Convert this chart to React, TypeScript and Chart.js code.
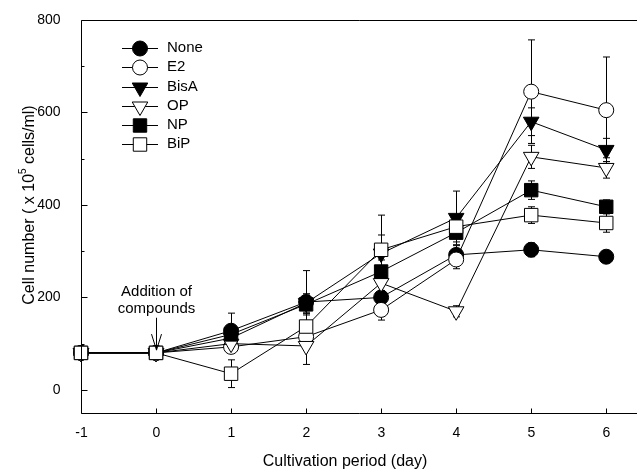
import React, { useEffect, useRef } from "react";
import { Chart, registerables } from "chart.js";

Chart.register(...registerables);

const days = [-1, 0, 1, 2, 3, 4, 5, 6];
const xTickLabels = ["-1", "0", "1", "2", "3", "4", "5", "6"];
const yTickValues = [0, 200, 400, 600, 800];
const yMinorTicks = [100, 300, 500, 700];

const seriesNames = ["None", "E2", "BisA", "OP", "NP", "BiP"];
const noneVals = [80, 80, 128, 190, 200, 292, 303, 288];
const e2Vals = [80, 80, 93, 115, 173, 282, 645, 605];
const bisAVals = [80, 80, 112, 188, 295, 372, 580, 519];
const opVals = [80, 80, 100, 95, 231, 170, 504, 480];
const npVals = [80, 80, 120, 185, 256, 340, 432, 396];
const bipVals = [80, 80, 35, 137, 303, 353, 378, 361];

const noneErr = [0, 0, 38, 68, 15, 20, 15, 12];
const e2Err = [0, 0, 12, 15, 22, 20, 112, 115];
const bisAErr = [0, 0, 15, 20, 40, 58, 30, 25];
const opErr = [0, 0, 10, 40, 20, 12, 25, 22];
const npErr = [0, 0, 15, 20, 25, 20, 20, 15];
const bipErr = [0, 0, 30, 25, 75, 25, 18, 20];

const seriesVals = [noneVals, e2Vals, bisAVals, opVals, npVals, bipVals];
const seriesErr = [noneErr, e2Err, bisAErr, opErr, npErr, bipErr];

const styles: any[] = [
  { pointStyle: "circle", fill: "#000", radius: 7.5, rotation: 0 },
  { pointStyle: "circle", fill: "#fff", radius: 7.5, rotation: 0 },
  { pointStyle: "triangle", fill: "#000", radius: 9, rotation: 180 },
  { pointStyle: "triangle", fill: "#fff", radius: 9, rotation: 180 },
  { pointStyle: "rect", fill: "#000", radius: 9.5, rotation: 0 },
  { pointStyle: "rect", fill: "#fff", radius: 9.5, rotation: 0 },
];

const FONT = "Liberation Sans, Arial, sans-serif";

function drawMarker(ctx: CanvasRenderingContext2D, st: any, x: number, y: number) {
  ctx.beginPath();
  if (st.pointStyle === "circle") {
    ctx.arc(x, y, st.radius, 0, Math.PI * 2);
  } else if (st.pointStyle === "triangle") {
    const r = st.radius;
    const h = r * Math.sqrt(3) / 2;
    ctx.moveTo(x, y + r);
    ctx.lineTo(x - h, y - r / 2);
    ctx.lineTo(x + h, y - r / 2);
    ctx.closePath();
  } else {
    const s = Math.SQRT1_2 * st.radius;
    ctx.rect(x - s, y - s, 2 * s, 2 * s);
  }
  ctx.fillStyle = st.fill;
  ctx.fill();
  ctx.strokeStyle = "#000";
  ctx.lineWidth = 1;
  ctx.stroke();
}

const customPlugin = {
  id: "customDraw",
  beforeDatasetsDraw(chart: any) {
    const ctx = chart.ctx;
    const xs = chart.scales.x;
    const ys = chart.scales.y;
    ctx.save();
    ctx.strokeStyle = "#000";
    ctx.lineWidth = 1;
    seriesVals.forEach((vals, i) => {
      const errs = seriesErr[i];
      vals.forEach((v, j) => {
        const e = errs[j];
        if (!e) return;
        const x = Math.round(xs.getPixelForValue(days[j])) + 0.5;
        const yt = ys.getPixelForValue(v + e);
        const yb = ys.getPixelForValue(v - e);
        ctx.beginPath();
        ctx.moveTo(x, yt);
        ctx.lineTo(x, yb);
        ctx.moveTo(x - 3.5, yt);
        ctx.lineTo(x + 3.5, yt);
        ctx.moveTo(x - 3.5, yb);
        ctx.lineTo(x + 3.5, yb);
        ctx.stroke();
      });
    });
    ctx.restore();
  },
  afterDraw(chart: any) {
    const ctx = chart.ctx;
    const xs = chart.scales.x;
    const ys = chart.scales.y;
    const area = chart.chartArea;
    ctx.save();
    ctx.strokeStyle = "#000";
    ctx.fillStyle = "#000";
    ctx.lineWidth = 1;
    const L = Math.round(area.left) + 0.5;
    const B = Math.round(area.bottom) + 0.5;
    const T = Math.round(area.top) + 0.5;
    const R = area.right;
    ctx.beginPath();
    ctx.moveTo(L, T);
    ctx.lineTo(L, B);
    ctx.lineTo(R, B);
    ctx.moveTo(L, T);
    ctx.lineTo(R, T);
    ctx.stroke();
    ctx.font = "14px " + FONT;
    ctx.textAlign = "right";
    ctx.textBaseline = "middle";
    yTickValues.forEach((v) => {
      const y = Math.round(ys.getPixelForValue(v)) + 0.5;
      ctx.beginPath();
      ctx.moveTo(L, y);
      ctx.lineTo(L + 6, y);
      ctx.stroke();
      ctx.fillText(String(v), L - 21, y);
    });
    yMinorTicks.forEach((v) => {
      const y = Math.round(ys.getPixelForValue(v)) + 0.5;
      ctx.beginPath();
      ctx.moveTo(L, y);
      ctx.lineTo(L + 3, y);
      ctx.stroke();
    });
    ctx.textAlign = "center";
    ctx.textBaseline = "middle";
    days.forEach((d, j) => {
      const x = Math.round(xs.getPixelForValue(d)) + 0.5;
      ctx.beginPath();
      ctx.moveTo(x, B);
      ctx.lineTo(x, B - 5);
      ctx.stroke();
      ctx.fillText(xTickLabels[j], x, B + 20);
    });
    ctx.font = "16px " + FONT;
    ctx.fillText("Cultivation period (day)", 345, 462);
    ctx.save();
    ctx.translate(30, 205);
    ctx.rotate(-Math.PI / 2);
    const p1 = "Cell number ( x 10";
    const p2 = "5";
    const p3 = " cells/ml)";
    ctx.font = "16px " + FONT;
    const w1 = ctx.measureText(p1).width;
    const w3 = ctx.measureText(p3).width;
    ctx.font = "10px " + FONT;
    const w2 = ctx.measureText(p2).width;
    const total = w1 + w2 + w3;
    let sx = -total / 2;
    ctx.textAlign = "left";
    ctx.textBaseline = "middle";
    ctx.font = "16px " + FONT;
    ctx.fillText(p1, sx, 0);
    sx += w1;
    ctx.font = "10px " + FONT;
    ctx.fillText(p2, sx, -7);
    sx += w2;
    ctx.font = "16px " + FONT;
    ctx.fillText(p3, sx, 0);
    ctx.restore();
    const ax = Math.round(xs.getPixelForValue(0)) + 0.5;
    const aTop = ys.getPixelForValue(156);
    const aTip = ys.getPixelForValue(86);
    ctx.beginPath();
    ctx.moveTo(ax, aTop);
    ctx.lineTo(ax, aTip);
    ctx.moveTo(ax - 5, aTip - 16);
    ctx.lineTo(ax, aTip);
    ctx.lineTo(ax + 5, aTip - 16);
    ctx.stroke();
    ctx.font = "15px " + FONT;
    ctx.textAlign = "center";
    ctx.textBaseline = "middle";
    ctx.fillStyle = "#000";
    ctx.fillText("Addition of", ax, 292);
    ctx.fillText("compounds", ax, 309);
    const rowY = [48, 67, 87, 106, 125, 144];
    seriesNames.forEach((name, i) => {
      const y = rowY[i] + 0.5;
      ctx.strokeStyle = "#000";
      ctx.beginPath();
      ctx.moveTo(122, y);
      ctx.lineTo(158, y);
      ctx.stroke();
      drawMarker(ctx, styles[i], 140, y);
      ctx.fillStyle = "#000";
      ctx.textAlign = "left";
      ctx.textBaseline = "middle";
      ctx.font = "15px " + FONT;
      ctx.fillText(name, 167, rowY[i]);
    });
    ctx.restore();
  },
};

export default function App() {
  const ref = useRef<HTMLCanvasElement | null>(null);
  useEffect(() => {
    if (!ref.current) return;
    const datasets = seriesNames.map((name, i) => ({
      label: name,
      data: days.map((d, j) => ({ x: d, y: seriesVals[i][j] })),
      borderColor: "#000",
      borderWidth: 1,
      backgroundColor: styles[i].fill,
      pointBackgroundColor: styles[i].fill,
      pointBorderColor: "#000",
      pointBorderWidth: 1,
      pointStyle: styles[i].pointStyle,
      pointRadius: styles[i].radius,
      pointRotation: styles[i].rotation,
      tension: 0,
      fill: false,
      clip: false,
      order: 5 - i,
    }));
    const chart = new Chart(ref.current, {
      type: "line",
      data: { datasets },
      options: {
        animation: false,
        responsive: false,
        layout: { autoPadding: false, padding: { left: 81, top: 20, right: 0, bottom: 60 } },
        plugins: { legend: { display: false }, tooltip: { enabled: false } },
        scales: {
          x: { type: "linear", min: -1, max: 6.41, display: false },
          y: { type: "linear", min: -50, max: 800, display: false },
        },
      },
      plugins: [customPlugin],
    });
    return () => chart.destroy();
  }, []);
  return (
    <div style={{ position: "fixed", left: 0, top: 0, width: 637, height: 473, background: "#fff" }}>
      <canvas ref={ref} width={637} height={473} style={{ width: 637, height: 473 }} />
    </div>
  );
}
